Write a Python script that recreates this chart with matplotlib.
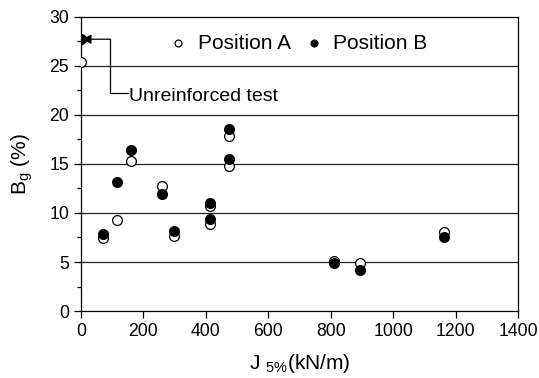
import matplotlib

matplotlib.use("Agg")
import matplotlib.pyplot as plt
from matplotlib.ticker import MultipleLocator

plt.rcParams["font.family"] = ["Liberation Sans", "DejaVu Sans"]
plt.rcParams["mathtext.fontset"] = "custom"
plt.rcParams["mathtext.rm"] = "Liberation Sans"
plt.rcParams["mathtext.it"] = "Liberation Sans"

# Position A (open circles)
j_a = [0, 72, 116, 162, 261, 299, 414, 414, 474, 474, 811, 893, 1164]
bg_a = [25.4, 7.45, 9.25, 15.3, 12.7, 7.7, 8.9, 10.7, 17.85, 14.75, 5.15, 4.85, 8.1]

# Position B (filled circles)
j_b = [0, 72, 116, 162, 261, 299, 414, 414, 474, 474, 811, 893, 1164]
bg_b = [27.7, 7.85, 13.15, 16.45, 11.95, 8.15, 9.4, 11.05, 18.55, 15.45, 4.9, 4.2, 7.5]

unreinforced_label = "Unreinforced test"

fig = plt.figure(figsize=(5.39, 3.78), dpi=100)
ax = fig.add_axes([0.150, 0.177, 0.811, 0.779])

for y in range(5, 30, 5):
    ax.axhline(y, color="#222222", lw=0.9, zorder=1)

ax.scatter(j_a, bg_a, s=50, facecolors="white", edgecolors="black",
           linewidths=0.9, zorder=3, label="Position A")
ax.scatter(j_b, bg_b, s=50, facecolors="black", edgecolors="black",
           linewidths=0.9, zorder=3, label="Position B")

# leader line from the label to the unreinforced point
lead_x = 93
ax.plot([150, lead_x, lead_x], [22.2, 22.2, bg_b[0]], color="black", lw=0.9, zorder=4)
ax.annotate("", xy=(j_b[0] + 3, bg_b[0]), xytext=(lead_x, bg_b[0]),
            arrowprops=dict(arrowstyle="-|>", color="black", lw=0.9,
                            mutation_scale=14, shrinkA=0, shrinkB=0),
            zorder=4)
ax.text(153, 21.9, unreinforced_label, fontsize=14, va="center", ha="left")

ax.set_xlim(0, 1400)
ax.set_ylim(0, 30)
ax.xaxis.set_major_locator(MultipleLocator(200))
ax.yaxis.set_major_locator(MultipleLocator(5))
ax.yaxis.set_minor_locator(MultipleLocator(2.5))
ax.tick_params(axis="both", which="major", direction="out", length=5,
               width=0.9, labelsize=12.7)
ax.tick_params(axis="y", which="minor", direction="out", length=3, width=0.9)
for sp in ax.spines.values():
    sp.set_linewidth(0.9)

ax.set_xlabel(r"J $_{5\%}$(kN/m)", fontsize=15, labelpad=9)
ax.set_ylabel(r"B$_{\mathregular{g}}$ (%)", fontsize=15, labelpad=10)

ax.legend(loc="center", bbox_to_anchor=(0.496, 0.91), ncol=2,
          frameon=False, fontsize=15, markerscale=0.7, handlelength=1.0,
          handletextpad=0.45, columnspacing=0.6,
          borderaxespad=0.0, borderpad=0.0)

fig.savefig("out.png", dpi=100)
